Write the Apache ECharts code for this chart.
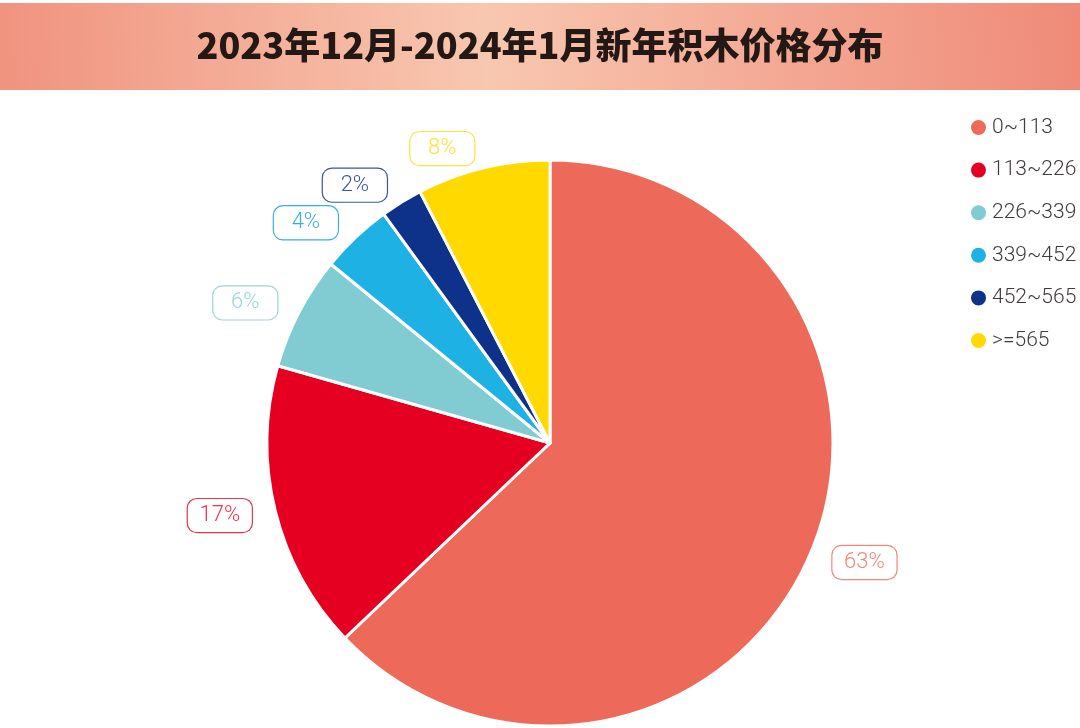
<!DOCTYPE html>
<html><head><meta charset="utf-8">
<script src="https://cdn.jsdelivr.net/npm/echarts@6/dist/echarts.min.js"></script>
<style>html,body{margin:0;padding:0;background:#fff}#c{width:1080px;height:728px}</style>
</head><body><div id="c"></div>
<script>
const titleText = '2023年12月-2024年1月新年积木价格分布';
const categories = ['0~113', '113~226', '226~339', '339~452', '452~565', '>=565'];
const sliceValues = [62.9, 16.5, 6.5, 4.1, 2.4, 7.6];
const percentLabels = ['63%', '17%', '6%', '4%', '2%', '8%'];
const sliceColors = ['#ED6A5A', '#E50021', '#81CBD2', '#1EB1E4', '#0E318A', '#FFD900'];
const labelTextColors = ['#F08878', '#E8334A', '#9AD5DA', '#3AAEE0', '#3A56A0', '#FFE040'];

const chart = echarts.init(document.getElementById('c'));
const mainData = categories.map((n, i) => ({
  name: n, value: sliceValues[i],
  itemStyle: { color: sliceColors[i] },
  label: { borderColor: labelTextColors[i], rich: { p: { color: labelTextColors[i] } } }
}));
chart.setOption({
  animation: false,
  graphic: [
    { type: 'rect', left: 0, top: 3, shape: { width: 1080, height: 87 },
      style: { fill: new echarts.graphic.LinearGradient(0, 0.7, 1, 0.3, [
        { offset: 0, color: '#F0937F' }, { offset: 0.45, color: '#F8C7B0' }, { offset: 1, color: '#EF8A78' }]) }, z: 0 },
    { type: 'text', left: 'center', top: 27, style: { text: titleText, fill: '#231815', font: '900 36px "Noto Sans CJK SC", sans-serif' }, z: 1 }
  ],
  legend: {
    orient: 'vertical', left: 964, top: 112, icon: 'circle', itemWidth: 17, itemHeight: 17, itemGap: 21.6,
    textStyle: { color: '#3E3A39', fontSize: 21, fontFamily: 'Roboto, "Noto Sans", sans-serif', fontWeight: 300 },
    data: categories
  },
  series: [
    { type: 'pie', center: [550, 443], radius: [0, 283], startAngle: 90, clockwise: true,
      avoidLabelOverlap: false,
      itemStyle: { borderColor: '#fff', borderWidth: 3 }, emphasis: { disabled: true },
      labelLine: { show: false, length: 20, length2: 0 },
      label: { show: true, position: 'outside', distanceToLabelLine: 4,
        formatter: p => '{p|' + percentLabels[p.dataIndex] + '}',
        backgroundColor: '#fff', borderWidth: 1.2, borderRadius: 9, padding: [5, 11, 5, 11],
        rich: { p: { width: 42, align: 'center', fontSize: 22, fontWeight: 300, lineHeight: 23,
          fontFamily: 'Roboto, "Noto Sans", sans-serif' } } },
      data: mainData }
  ]
});
</script></body></html>
